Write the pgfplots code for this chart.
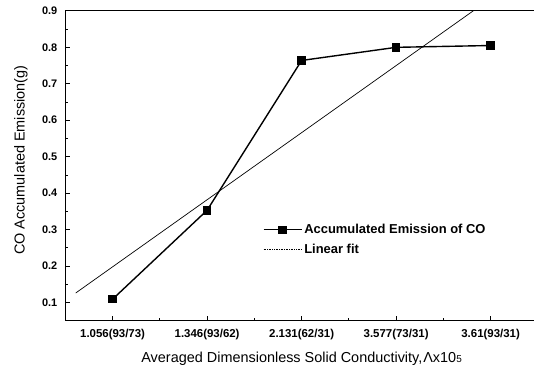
\documentclass[border=0pt]{standalone}
\usepackage{fontspec}
\setmainfont{Liberation Sans}
\usepackage{pgfplots}
\pgfplotsset{compat=1.18}
\begin{document}
\begin{tikzpicture}
\begin{axis}[
  scale only axis,
  width=473bp, height=310.1bp,
  xmin=-0.5, xmax=4.5, ymin=0.05, ymax=0.9,
  xtick={0,1,2,3,4},
  xticklabels={1.056(93/73),1.346(93/62),2.131(62/31),3.577(73/31),3.61(93/31)},
  minor xtick={0.5,1.5,2.5,3.5},
  ytick={0.1,0.2,0.3,0.4,0.5,0.6,0.7,0.8,0.9},
  minor ytick={0.15,0.25,0.35,0.45,0.55,0.65,0.75,0.85},
  tick pos=left,
  tick align=inside,
  major tick length=5bp,
  minor tick length=3bp,
  every tick/.style={black, line width=0.8pt},
  axis line style={line width=1pt},
  /pgf/number format/assume math mode=true,
  yticklabel style={/pgf/number format/fixed,/pgf/number format/precision=1,/pgf/number format/fixed zerofill, font=\fontsize{11}{13}\selectfont\bfseries, xshift=-4.5bp},
  xticklabel style={font=\fontsize{11.5}{13}\selectfont\bfseries, yshift=-5bp},
  xlabel={Averaged Dimensionless Solid Conductivity,\kern1pt Λx10{\fontsize{10}{10}\selectfont 5}},
  ylabel={CO Accumulated Emission(g)},
  xlabel style={font=\fontsize{14.5}{16}\selectfont, at={(rel axis cs:0.5,-0.1225)}, anchor=center},
  ylabel style={font=\fontsize{14.5}{16}\selectfont, at={(rel axis cs:-0.0939,0.518)}, anchor=center},
  legend style={draw=none, fill=none, at={(rel axis cs:0.4178,0.318)}, anchor=north west,
    font=\fontsize{13}{15}\selectfont\bfseries, row sep=4.5bp, inner sep=0pt,
    cells={anchor=west}},
  legend cell align=left,
]
\addplot[black, line width=1.4pt, mark=square*, mark size=3.6bp, mark options={solid},
  legend image code/.code={\draw[black, line width=1.4pt] (0bp,0bp) -- (38bp,0bp);
    \fill[black] (15.5bp,-3.6bp) rectangle (22.5bp,3.6bp);}]
  coordinates {(0,0.109) (1,0.353) (2,0.764) (3,0.800) (4,0.805)};
\addlegendentry{Accumulated Emission of CO}
\addplot[black, line width=0.7pt, legend image code/.code={\draw[black, densely dotted, line width=0.7pt] (0bp,0bp) -- (38bp,0bp);}]
  coordinates {(-0.39,0.126) (4.0,0.934)};
\addlegendentry{Linear fit}
\coordinate (sw) at (rel axis cs:0,0);
\coordinate (ne) at (rel axis cs:1,1);
\end{axis}
\pgfresetboundingbox
\path[use as bounding box] ([xshift=-65.4bp,yshift=-44bp]sw) rectangle ([xshift=-3.9bp,yshift=10.9bp]ne);
\end{tikzpicture}
\end{document}
